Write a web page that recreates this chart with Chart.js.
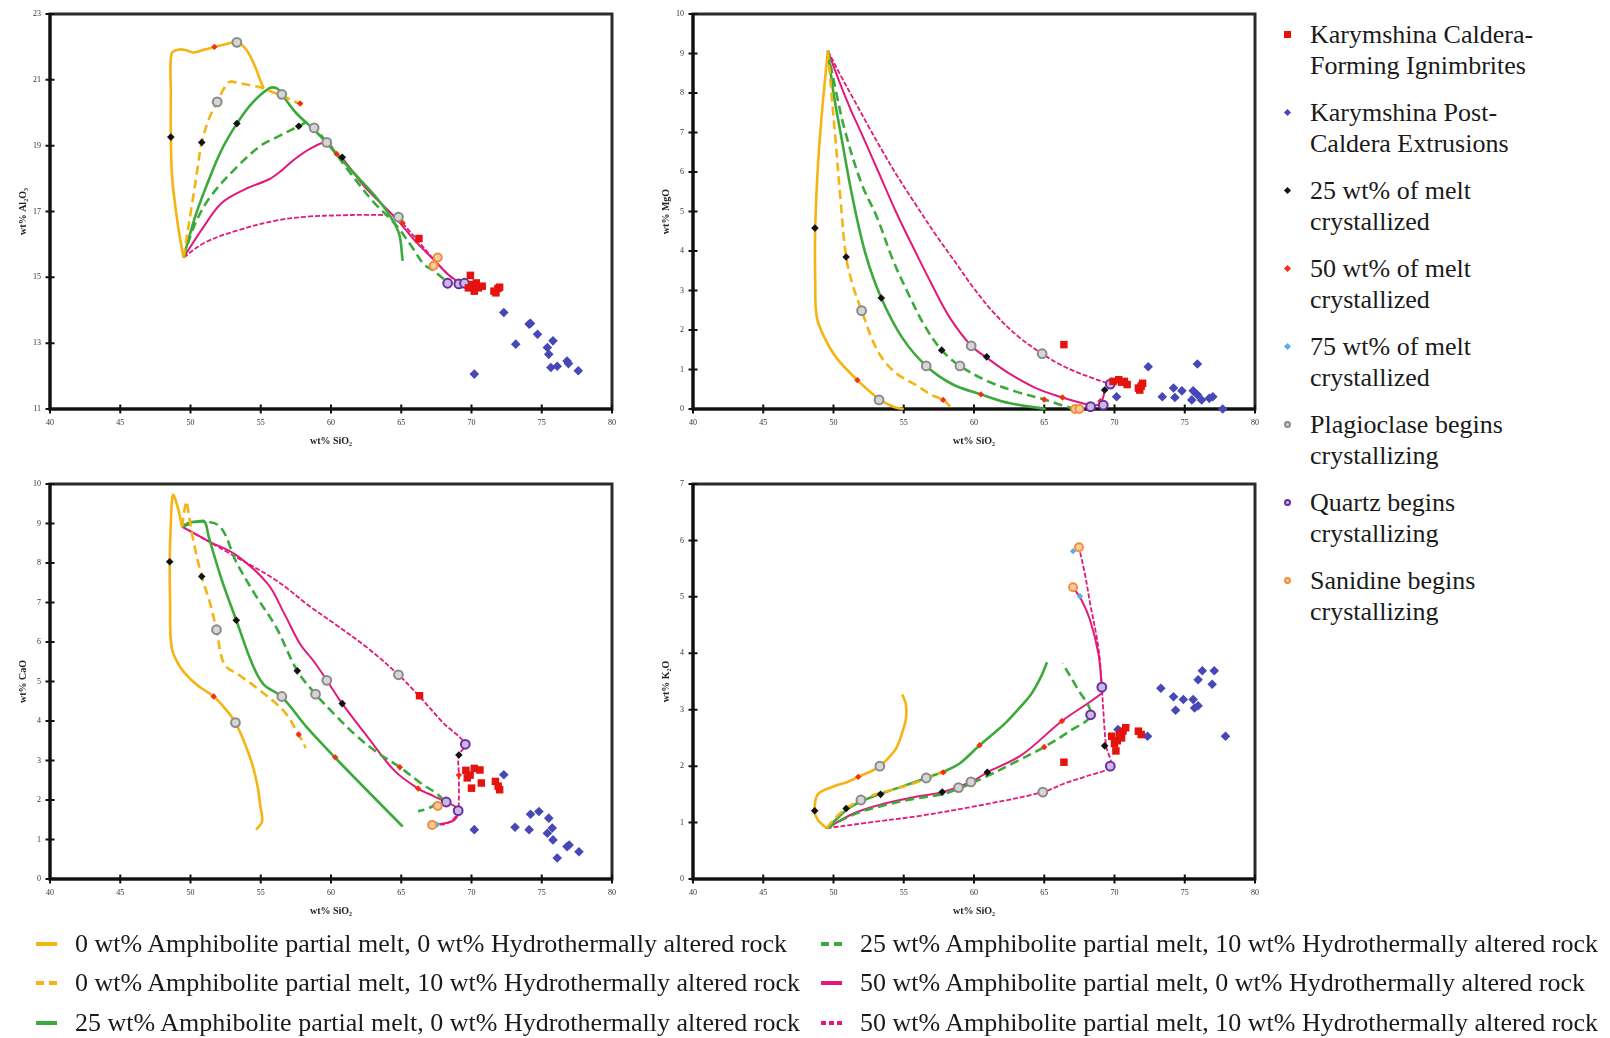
<!DOCTYPE html>
<html>
<head>
<meta charset="utf-8">
<script src="https://cdn.jsdelivr.net/npm/chart.js@4.4.0/dist/chart.umd.min.js"></script>
<style>
  html, body { margin: 0; padding: 0; background: #fff; }
  body { width: 1610px; height: 1038px; position: relative; overflow: hidden;
         font-family: "Liberation Serif", "Times New Roman", serif; color: #1a1a1a; }
  canvas.panel { position: absolute; }
  .rl { position: absolute; left: 1310px; font-size: 26px; line-height: 31px; white-space: nowrap; z-index: 5; }
  .bl { position: absolute; font-size: 26px; line-height: 30px; white-space: nowrap; z-index: 5; }
  .mk { position: absolute; box-sizing: border-box; }
  .sw { position: absolute; height: 4px; width: 21px; }
</style>
</head>
<body>
<canvas class="panel" id="cAl" width="650" height="470" style="left:0;top:0"></canvas>
<canvas class="panel" id="cMg" width="650" height="470" style="left:643px;top:0"></canvas>
<canvas class="panel" id="cCa" width="650" height="470" style="left:0;top:470px"></canvas>
<canvas class="panel" id="cK" width="650" height="470" style="left:643px;top:470px"></canvas>
<div id="legendRight"></div>
<div id="legendBottom"></div>
<script>
// ---- axis ticks ----
const SIO2_TICKS = [40, 45, 50, 55, 60, 65, 70, 75, 80];
const AL_TICKS = [11, 13, 15, 17, 19, 21, 23];
const MG_TICKS = [0, 1, 2, 3, 4, 5, 6, 7, 8, 9, 10];
const CA_TICKS = [0, 1, 2, 3, 4, 5, 6, 7, 8, 9, 10];
const K_TICKS = [0, 1, 2, 3, 4, 5, 6, 7];

// ---- model curves: [SiO2, oxide] ----
// a = wt% amphibolite partial melt, h = wt% hydrothermally altered rock
const al_a0h0 = [[49.5,15.6],[49.1,16.6],[48.7,18.0],[48.6,19.26],[48.6,20.6],[48.65,21.8],[49.2,21.92],[49.7,21.9],[50.25,21.83],[51.0,21.92],[51.7,22.0],[52.5,22.08],[53.3,22.14],[54.0,21.9],[54.6,21.4],[55.0,20.95],[55.2,20.75]];
const al_a0h10 = [[49.5,15.6],[50.1,17.2],[50.5,18.3],[50.8,19.1],[51.3,19.8],[51.9,20.33],[52.4,20.75],[52.8,20.94],[53.5,20.9],[54.3,20.83],[55.0,20.77],[56.0,20.6],[56.7,20.48],[57.3,20.36],[57.8,20.28],[58.3,20.3]];
const al_a25h0 = [[49.5,15.6],[50.3,16.8],[51.1,17.74],[52.2,18.86],[53.3,19.67],[54.4,20.3],[55.6,20.74],[56.15,20.74],[56.5,20.56],[57.5,20.0],[59.0,19.4],[60.8,18.55],[62.0,18.0],[63.2,17.44],[64.3,16.8],[64.86,16.3],[65.1,15.5]];
const al_a25h10 = [[49.5,15.6],[50.3,16.6],[51.4,17.44],[53.3,18.35],[55.0,19.0],[56.15,19.26],[57.7,19.59],[58.4,19.72],[58.8,19.54],[59.8,19.06],[61.5,18.1],[63.0,17.3],[64.6,16.6],[65.8,15.9],[66.6,15.4],[67.3,15.2],[68.3,14.85]];
const al_a50h0 = [[49.5,15.6],[50.8,16.45],[52.2,17.25],[53.9,17.68],[55.6,17.98],[56.5,18.25],[57.3,18.55],[58.5,18.9],[59.7,19.1],[60.4,18.75],[60.8,18.62],[62.5,17.7],[64.6,16.8],[66.0,16.1],[67.4,15.5],[68.3,15.1],[69.1,14.85]];
const al_a50h10 = [[49.5,15.6],[51.0,16.05],[53.3,16.42],[56.15,16.73],[58.5,16.85],[60.4,16.88],[62.5,16.9],[64.3,16.88],[64.8,16.83],[65.1,16.65],[66.2,16.1],[67.4,15.5],[68.3,15.1],[69.1,14.8]];

const mg_a0h0 = [[49.6,9.07],[49.2,7.6],[48.9,6.2],[48.7,4.58],[48.7,3.2],[48.8,2.35],[49.3,1.85],[50.2,1.3],[51.7,0.73],[53.24,0.25],[54.3,0.05],[55.0,0.0]];
const mg_a0h10 = [[49.6,9.07],[49.9,7.8],[50.15,6.8],[50.5,5.3],[50.9,3.85],[51.4,3.1],[52.0,2.49],[53.1,1.5],[54.3,0.95],[55.9,0.6],[57.0,0.35],[57.8,0.23],[58.3,0.06]];
const mg_a25h0 = [[49.6,9.07],[50.0,8.0],[50.5,7.0],[51.4,5.27],[52.3,3.9],[53.4,2.81],[54.9,1.8],[56.6,1.09],[58.5,0.62],[60.5,0.37],[62.5,0.15],[65.1,0.0]];
const mg_a25h10 = [[49.6,9.07],[50.2,8.0],[50.85,7.0],[52.0,5.7],[53.1,4.85],[54.2,3.8],[55.35,2.9],[56.5,2.1],[57.7,1.49],[59.0,1.09],[61.0,0.7],[63.0,0.44],[65.1,0.23],[66.2,0.1],[67.2,0.0]];
const mg_a50h0 = [[49.6,9.07],[50.4,8.3],[51.2,7.6],[52.0,6.97],[53.2,6.0],[54.5,4.95],[55.8,4.0],[57.0,3.15],[58.3,2.3],[59.8,1.6],[60.9,1.3],[62.5,0.9],[64.4,0.53],[66.3,0.29],[68.0,0.12],[68.8,0.1],[69.15,0.25],[69.3,0.48]];
const mg_a50h10 = [[49.6,9.07],[50.5,8.45],[51.5,7.8],[52.5,7.15],[53.5,6.52],[54.5,5.92],[55.9,5.15],[57.3,4.4],[58.7,3.7],[60.0,3.05],[61.5,2.4],[63.2,1.82],[64.85,1.4],[66.0,1.15],[67.2,0.95],[68.3,0.8],[69.7,0.63]];

const ca_a0h0 = [[49.4,8.92],[49.1,9.4],[48.75,9.72],[48.6,9.0],[48.52,8.03],[48.55,7.0],[48.66,5.86],[49.3,5.35],[50.4,4.93],[51.65,4.62],[52.5,4.3],[53.2,3.96],[53.9,3.4],[54.4,2.9],[54.8,2.3],[54.95,1.88],[55.1,1.46],[54.67,1.25]];
const ca_a0h10 = [[49.4,8.92],[49.7,9.55],[49.85,9.3],[50.15,8.66],[50.8,7.66],[51.4,6.97],[51.85,6.31],[52.4,5.44],[53.5,5.15],[54.67,4.85],[56.64,4.25],[57.7,3.66],[58.2,3.32]];
const ca_a25h0 = [[49.4,8.92],[49.9,9.02],[50.5,9.05],[51.0,9.05],[51.3,8.66],[52.2,7.6],[53.26,6.55],[54.4,5.44],[55.2,4.93],[56.5,4.61],[58.3,3.83],[60.3,3.07],[62.85,2.14],[65.1,1.33]];
const ca_a25h10 = [[49.4,8.92],[50.7,9.05],[52.1,8.92],[53.25,8.03],[54.6,7.2],[56.1,6.37],[57.6,5.27],[58.9,4.68],[60.3,4.15],[61.7,3.66],[63.3,3.2],[64.9,2.83],[66.3,2.45],[67.6,2.14],[67.9,2.0],[67.0,1.8],[66.2,1.71]];
const ca_a50h0 = [[49.4,8.92],[51.3,8.55],[53.26,8.2],[55.5,7.47],[56.7,6.7],[57.8,5.95],[58.8,5.5],[59.7,5.03],[60.8,4.44],[62.6,3.6],[64.55,2.73],[66.2,2.29],[67.3,2.1],[68.2,1.95],[69.1,1.75],[68.8,1.5],[68.2,1.42],[67.55,1.38]];
const ca_a50h10 = [[49.4,8.92],[53.0,8.2],[56.1,7.56],[58.5,6.9],[60.3,6.45],[62.6,5.85],[64.8,5.17],[66.3,4.62],[68.0,3.95],[69.56,3.41],[69.1,3.14],[69.1,2.63],[69.1,2.1],[69.05,1.73],[68.8,1.55],[68.2,1.4],[67.2,1.37]];

const k_a0h0 = [[49.5,0.9],[48.88,1.05],[48.66,1.21],[48.88,1.5],[50.0,1.64],[51.0,1.72],[51.76,1.81],[52.6,1.9],[53.3,2.0],[54.0,2.17],[54.47,2.32],[54.9,2.6],[55.17,2.86],[55.15,3.1],[54.89,3.27]];
const k_a0h10 = [[49.5,0.9],[50.2,1.1],[50.9,1.25],[51.95,1.4],[53.0,1.5],[54.75,1.62],[56.7,1.78],[57.8,1.89],[58.2,1.84]];
const k_a25h0 = [[49.5,0.9],[50.3,1.08],[51.1,1.26],[52.2,1.4],[53.35,1.51],[55.0,1.65],[56.6,1.79],[58.0,1.92],[59.0,2.05],[60.4,2.37],[61.5,2.6],[62.3,2.78],[63.3,3.05],[64.0,3.25],[64.7,3.55],[65.2,3.84]];
const k_a25h10 = [[49.5,0.9],[51.5,1.15],[53.5,1.3],[55.7,1.42],[57.7,1.5],[58.9,1.6],[60.9,1.82],[63.0,2.08],[65.0,2.34],[66.8,2.62],[68.3,2.91],[67.3,3.4],[66.3,3.82]];
const k_a50h0 = [[49.5,0.9],[51.5,1.17],[53.5,1.33],[55.7,1.45],[57.74,1.54],[59.78,1.72],[60.95,1.89],[63.4,2.2],[66.26,2.8],[69.13,3.3],[69.1,3.4],[68.85,4.0],[68.26,4.59],[67.66,4.94],[67.05,5.17]];
const k_a50h10 = [[49.5,0.9],[52.5,1.0],[56.15,1.12],[60.3,1.3],[64.9,1.54],[66.5,1.7],[68.0,1.82],[69.7,2.0],[69.4,2.36],[69.2,3.0],[69.1,3.4],[68.95,3.9],[68.73,4.29],[68.26,4.89],[67.9,5.4],[67.47,5.88]];

// ---- crystallization milestones along the curves ----
const al_c25 = [[48.6,19.26],[50.8,19.1],[53.3,19.67],[57.7,19.59],[60.8,18.65]];
const al_c50 = [[51.7,22.0],[57.8,20.28],[60.4,18.75],[65.1,16.65]];
const al_c75 = [[67.5,15.65],[67.2,15.3]];
const al_plag = [[53.3,22.14],[51.9,20.33],[56.5,20.56],[58.8,19.54],[59.7,19.1],[64.8,16.83]];
const al_qtz = [[68.3,14.82],[69.1,14.8],[69.5,14.82]];
const al_san = [[67.6,15.6],[67.3,15.35]];

const mg_c25 = [[48.68,4.58],[50.9,3.85],[53.4,2.81],[57.7,1.49],[60.9,1.32],[69.3,0.48]];
const mg_c50 = [[51.7,0.73],[57.8,0.23],[60.5,0.37],[65.0,0.24],[66.3,0.29],[69.0,0.2]];
const mg_c75 = [[67.3,0.02]];
const mg_plag = [[53.24,0.23],[52.0,2.49],[56.6,1.09],[59.0,1.09],[59.8,1.6],[64.85,1.4]];
const mg_qtz = [[68.3,0.06],[69.2,0.1],[69.7,0.63]];
const mg_san = [[67.2,0.0],[67.5,0.0]];

const ca_c25 = [[48.52,8.03],[50.8,7.66],[53.26,6.55],[57.6,5.27],[60.8,4.44],[69.1,3.14]];
const ca_c50 = [[51.65,4.62],[57.7,3.66],[60.3,3.08],[64.9,2.83],[66.2,2.29],[69.1,2.63]];
const ca_c75 = [[67.4,1.88],[67.55,1.38]];
const ca_plag = [[51.85,6.31],[53.2,3.96],[56.5,4.62],[58.9,4.68],[59.7,5.03],[64.8,5.17]];
const ca_qtz = [[69.56,3.41],[68.2,1.95],[69.05,1.73]];
const ca_san = [[67.6,1.85],[67.2,1.37]];

const k_c25 = [[48.66,1.21],[50.9,1.25],[53.35,1.5],[57.74,1.54],[60.95,1.89],[69.3,2.36]];
const k_c50 = [[51.76,1.81],[57.8,1.89],[60.4,2.37],[65.0,2.34],[66.26,2.8]];
const k_c75 = [[67.05,5.81],[67.54,5.01]];
const k_plag = [[53.3,2.0],[51.95,1.4],[56.6,1.79],[58.9,1.62],[59.78,1.72],[64.9,1.54]];
const k_qtz = [[69.1,3.4],[69.7,2.0],[68.3,2.91]];
const k_san = [[67.47,5.88],[67.05,5.17]];

// ---- analysed samples ----
const al_ign = [[69.92,15.06],[70.06,14.78],[70.34,14.83],[70.2,14.58],[70.48,14.68],[70.76,14.73],[69.78,14.68],[71.6,14.58],[71.88,14.66],[72.0,14.7],[71.74,14.53],[66.26,16.18]];
const al_post = [[72.3,13.93],[74.1,13.58],[74.2,13.6],[74.7,13.27],[73.15,12.97],[75.4,12.87],[75.5,12.66],[75.8,13.07],[75.65,12.26],[76.1,12.3],[76.8,12.46],[76.9,12.38],[77.6,12.16],[70.2,12.06]];
const mg_ign = [[66.4,1.63],[69.9,0.7],[70.3,0.74],[70.5,0.68],[70.7,0.7],[70.9,0.62],[71.7,0.53],[71.8,0.48],[72.0,0.65],[71.9,0.58]];
const mg_post = [[72.4,1.07],[70.15,0.31],[73.4,0.31],[74.2,0.53],[74.3,0.29],[74.8,0.46],[75.6,0.46],[75.9,1.14],[75.9,0.36],[76.2,0.23],[75.5,0.23],[76.75,0.27],[77.0,0.31],[77.7,0.0]];
const ca_ign = [[66.3,4.64],[69.6,2.75],[69.9,2.63],[70.2,2.8],[70.6,2.76],[69.7,2.56],[70.0,2.3],[70.7,2.43],[71.7,2.47],[71.9,2.35],[72.0,2.26]];
const ca_post = [[72.3,2.64],[70.2,1.25],[73.1,1.31],[74.1,1.25],[74.2,1.64],[74.8,1.71],[75.5,1.54],[75.75,1.29],[75.4,1.16],[75.8,0.99],[76.1,0.53],[76.8,0.82],[76.95,0.86],[77.65,0.69]];
const k_ign = [[66.4,2.07],[69.8,2.53],[70.1,2.27],[70.2,2.45],[70.5,2.5],[70.8,2.68],[70.35,2.56],[71.7,2.62],[71.9,2.56],[70.0,2.4],[70.6,2.62]];
const k_post = [[73.3,3.38],[74.2,3.23],[74.35,2.99],[74.9,3.18],[75.6,3.18],[75.7,3.03],[75.95,3.07],[75.95,3.53],[76.25,3.69],[77.1,3.69],[76.95,3.45],[77.9,2.53],[70.25,2.65],[72.35,2.53]];

// ---- legend texts ----
const POINT_LABELS = [
  ['Karymshina Caldera-', 'Forming Ignimbrites'],
  ['Karymshina Post-', 'Caldera Extrusions'],
  ['25 wt% of melt', 'crystallized'],
  ['50 wt% of melt', 'crystallized'],
  ['75 wt% of melt', 'crystallized'],
  ['Plagioclase begins', 'crystallizing'],
  ['Quartz begins', 'crystallizing'],
  ['Sanidine begins', 'crystallizing']
];
const CURVE_LABELS = [
  '0 wt% Amphibolite partial melt, 0 wt% Hydrothermally altered rock',
  '0 wt% Amphibolite partial melt, 10 wt% Hydrothermally altered rock',
  '25 wt% Amphibolite partial melt, 0 wt% Hydrothermally altered rock',
  '25 wt% Amphibolite partial melt, 10 wt% Hydrothermally altered rock',
  '50 wt% Amphibolite partial melt, 0 wt% Hydrothermally altered rock',
  '50 wt% Amphibolite partial melt, 10 wt% Hydrothermally altered rock'
];

// ---- styling ----
const SERIF = '"Liberation Serif", "Times New Roman", serif';
const YEL = '#F5B414', GRN = '#3BAA3B', PNK = '#E2187A';
const CURVE_STYLE = [
  { color: YEL, dash: [], width: 2.6 },
  { color: YEL, dash: [9, 5], width: 2.6 },
  { color: GRN, dash: [], width: 2.6 },
  { color: GRN, dash: [9, 5], width: 2.6 },
  { color: PNK, dash: [], width: 2 },
  { color: PNK, dash: [5, 2], width: 1.8 }
];
const POINT_STYLE = {
  ign:  { pointStyle: 'rect', radius: 5.3, bg: '#E5120E', border: '#E5120E', bw: 0 },
  post: { pointStyle: 'rectRot', radius: 4.8, bg: '#4747B8', border: '#4747B8', bw: 0 },
  c25:  { pointStyle: 'rectRot', radius: 3.8, bg: '#111111', border: '#111111', bw: 0 },
  c50:  { pointStyle: 'rectRot', radius: 3.2, bg: '#F0300E', border: '#F0300E', bw: 0 },
  c75:  { pointStyle: 'rectRot', radius: 3.2, bg: '#5AAEEA', border: '#5AAEEA', bw: 0 },
  plag: { pointStyle: 'circle', radius: 4.4, bg: '#D6D6D6', border: '#8A8A8A', bw: 2 },
  qtz:  { pointStyle: 'circle', radius: 4.4, bg: '#C9B9E2', border: '#6B2E9E', bw: 2 },
  san:  { pointStyle: 'circle', radius: 4.0, bg: '#F9CBA2', border: '#F0903A', bw: 2 }
};

const toXY = arr => arr.map(([x, y]) => ({ x, y }));

// frame around the plot area plus cross-shaped major tick marks
const framePlugin = {
  id: 'frameTicks',
  beforeDatasetsDraw(chart) {
    const { ctx, chartArea: a, scales } = chart;
    ctx.save();
    ctx.strokeStyle = '#2b2b2b';
    ctx.lineWidth = 3;
    ctx.strokeRect(a.left, a.top, a.right - a.left, a.bottom - a.top);
    ctx.strokeStyle = '#111';
    ctx.lineWidth = 3;
    ctx.beginPath();
    ctx.moveTo(a.left, a.top); ctx.lineTo(a.left, a.bottom); ctx.lineTo(a.right, a.bottom);
    ctx.stroke();
    ctx.lineWidth = 2;
    ctx.beginPath();
    scales.x.ticks.forEach(t => {
      const px = scales.x.getPixelForValue(t.value);
      ctx.moveTo(px, a.bottom - 4.5); ctx.lineTo(px, a.bottom + 4.5);
    });
    scales.y.ticks.forEach(t => {
      const py = scales.y.getPixelForValue(t.value);
      ctx.moveTo(a.left - 4.5, py); ctx.lineTo(a.left + 4.5, py);
    });
    ctx.stroke();
    ctx.restore();
  }
};

function makePanel(id, yTitle, yMin, yMax, yTicks, curves, pts) {
  const datasets = [];
  ['ign', 'post', 'san', 'qtz', 'c75', 'plag', 'c50', 'c25'].forEach(key => {
    const s = POINT_STYLE[key];
    datasets.push({
      data: toXY(pts[key]), showLine: false, pointStyle: s.pointStyle,
      pointRadius: s.radius, pointHoverRadius: s.radius,
      backgroundColor: s.bg, borderColor: s.border, borderWidth: s.bw, clip: false
    });
  });
  curves.forEach((c, i) => {
    const st = CURVE_STYLE[i];
    datasets.push({
      data: toXY(c), showLine: true, pointRadius: 0, borderColor: st.color,
      borderWidth: st.width, borderDash: st.dash, tension: 0.35, fill: false, clip: false,
      borderCapStyle: 'butt'
    });
  });
  const tickFont = { family: SERIF, size: 8 };
  const titleFont = { family: SERIF, size: 10, weight: 'bold' };
  new Chart(document.getElementById(id), {
    type: 'scatter',
    data: { datasets },
    options: {
      responsive: false, animation: false, devicePixelRatio: 1,
      layout: { padding: { top: 14, right: 38, bottom: 0, left: 0 } },
      plugins: { legend: { display: false }, tooltip: { enabled: false } },
      events: [],
      scales: {
        x: {
          type: 'linear', min: 40, max: 80,
          afterBuildTicks: s => { s.ticks = SIO2_TICKS.map(v => ({ value: v })); },
          afterFit: s => { s.height = 61; },
          grid: { display: false, drawTicks: false },
          border: { display: false },
          ticks: { font: tickFont, color: '#333', padding: 9, maxRotation: 0, autoSkip: false },
          title: { display: true, text: 'wt% SiO₂', font: titleFont, color: '#222', padding: { top: 0, bottom: 23 } }
        },
        y: {
          type: 'linear', min: yMin, max: yMax,
          afterBuildTicks: s => { s.ticks = yTicks.map(v => ({ value: v })); },
          afterFit: s => { s.width = 50; },
          grid: { display: false, drawTicks: false },
          border: { display: false },
          ticks: { font: tickFont, color: '#333', padding: 9, autoSkip: false },
          title: { display: true, text: yTitle, font: titleFont, color: '#222', padding: { top: 17, bottom: 0 } }
        }
      }
    },
    plugins: [framePlugin]
  });
}

makePanel('cAl', 'wt% Al₂O₃', 11, 23, AL_TICKS,
  [al_a0h0, al_a0h10, al_a25h0, al_a25h10, al_a50h0, al_a50h10],
  { ign: al_ign, post: al_post, c25: al_c25, c50: al_c50, c75: al_c75, plag: al_plag, qtz: al_qtz, san: al_san });
makePanel('cMg', 'wt% MgO', 0, 10, MG_TICKS,
  [mg_a0h0, mg_a0h10, mg_a25h0, mg_a25h10, mg_a50h0, mg_a50h10],
  { ign: mg_ign, post: mg_post, c25: mg_c25, c50: mg_c50, c75: mg_c75, plag: mg_plag, qtz: mg_qtz, san: mg_san });
makePanel('cCa', 'wt% CaO', 0, 10, CA_TICKS,
  [ca_a0h0, ca_a0h10, ca_a25h0, ca_a25h10, ca_a50h0, ca_a50h10],
  { ign: ca_ign, post: ca_post, c25: ca_c25, c50: ca_c50, c75: ca_c75, plag: ca_plag, qtz: ca_qtz, san: ca_san });
makePanel('cK', 'wt% K₂O', 0, 7, K_TICKS,
  [k_a0h0, k_a0h10, k_a25h0, k_a25h10, k_a50h0, k_a50h10],
  { ign: k_ign, post: k_post, c25: k_c25, c50: k_c50, c75: k_c75, plag: k_plag, qtz: k_qtz, san: k_san });

// ---- legend: sample and milestone symbols ----
const RIGHT_MARKS = [
  { w: 7, h: 7, bg: '#E5120E', rot: 0, br: 0 },
  { w: 5, h: 5, bg: '#4747B8', rot: 45, br: 0 },
  { w: 5, h: 5, bg: '#111', rot: 45, br: 0 },
  { w: 5, h: 5, bg: '#F0300E', rot: 45, br: 0 },
  { w: 5, h: 5, bg: '#5AAEEA', rot: 45, br: 0 },
  { w: 7, h: 7, bg: '#D6D6D6', rot: 0, br: 50, border: '#8A8A8A' },
  { w: 7, h: 7, bg: '#C9B9E2', rot: 0, br: 50, border: '#6B2E9E' },
  { w: 7, h: 7, bg: '#F9CBA2', rot: 0, br: 50, border: '#F0903A' }
];
const lr = document.getElementById('legendRight');
POINT_LABELS.forEach((lines, i) => {
  const top = 18.5 + i * 78.1;
  const d = document.createElement('div');
  d.className = 'rl';
  d.style.top = top + 'px';
  d.innerHTML = lines.join('<br>');
  lr.appendChild(d);
  const m = RIGHT_MARKS[i];
  const s = document.createElement('span');
  s.className = 'mk';
  s.style.cssText = `left:${1287 - m.w / 2}px;top:${top + 15.5 - m.h / 2}px;width:${m.w}px;height:${m.h}px;` +
    `background:${m.bg};transform:rotate(${m.rot}deg);border-radius:${m.br}%;` +
    (m.border ? `border:2px solid ${m.border};` : '') + 'z-index:5;';
  lr.appendChild(s);
});

// ---- legend: model curves ----
const lb = document.getElementById('legendBottom');
const BOTTOM_POS = [
  { x: 75, y: 944 }, { x: 75, y: 983 }, { x: 75, y: 1023 },
  { x: 860, y: 944 }, { x: 860, y: 983 }, { x: 860, y: 1023 }
];
CURVE_LABELS.forEach((label, ci) => {
  const p = BOTTOM_POS[ci];
  const st = CURVE_STYLE[ci];
  const d = document.createElement('div');
  d.className = 'bl';
  d.style.left = p.x + 'px';
  d.style.top = (p.y - 15) + 'px';
  d.textContent = label;
  lb.appendChild(d);
  const sw = document.createElement('span');
  sw.className = 'sw';
  sw.style.left = (p.x - 39) + 'px';
  sw.style.top = (p.y - 2) + 'px';
  if (st.dash.length) {
    const fine = st.color === PNK;
    const on = fine ? 5 : 8, off = fine ? 3 : 5;
    sw.style.background = `repeating-linear-gradient(90deg, ${st.color} 0 ${on}px, transparent ${on}px ${on + off}px)`;
  } else {
    sw.style.background = st.color;
  }
  lb.appendChild(sw);
});
</script>
</body>
</html>
